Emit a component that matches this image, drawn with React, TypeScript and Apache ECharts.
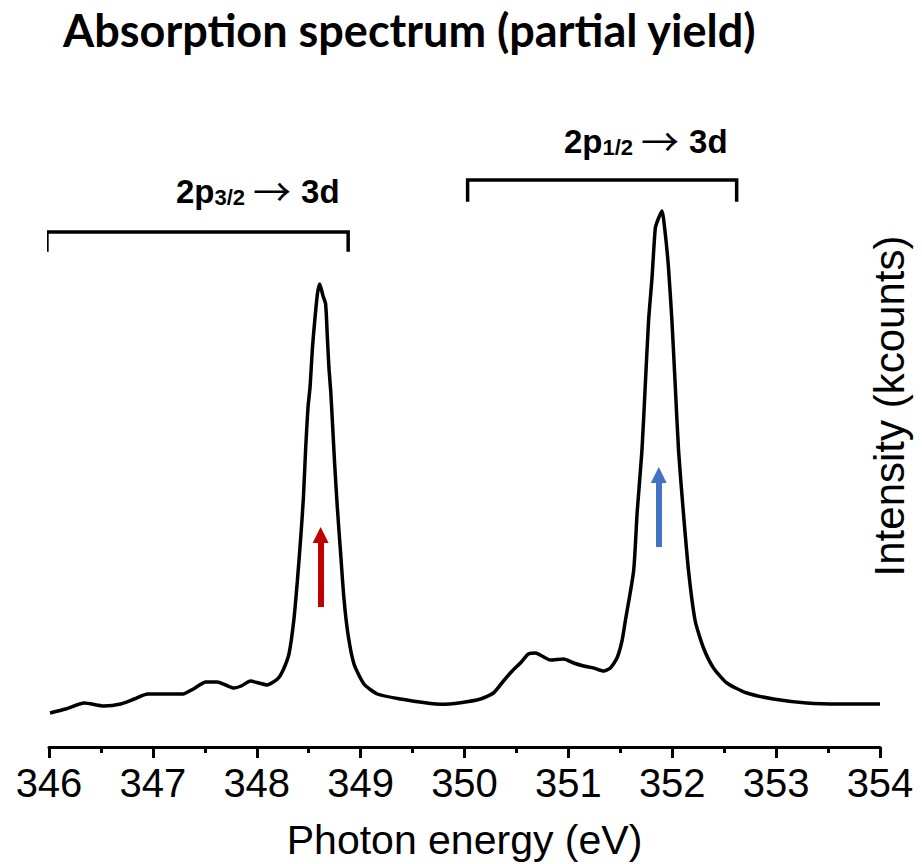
import React, { useEffect, useRef } from "react";
import * as echarts from "echarts";

// Photon energy (eV) and intensity (arbitrary kcounts units)
const energy = [
  346.01, 346.16, 346.34, 346.53, 346.69, 346.82, 346.95, 347.11, 347.29, 347.39,
  347.51, 347.62, 347.70, 347.78, 347.85, 347.94, 348.02, 348.10, 348.20, 348.25,
  348.31, 348.356, 348.391, 348.423, 348.449, 348.471, 348.493, 348.514, 348.536, 348.558,
  348.584, 348.606, 348.638, 348.663, 348.68, 348.695, 348.712, 348.728, 348.75, 348.776,
  348.808, 348.839, 348.878, 348.936, 349.032, 349.161, 349.385, 349.673, 349.77, 349.962,
  350.154, 350.279, 350.375, 350.459, 350.538, 350.615, 350.683, 350.747, 350.827, 350.955,
  351.051, 351.147, 351.243, 351.339, 351.404, 351.468, 351.516, 351.548, 351.628, 351.663,
  351.708, 351.74, 351.772, 351.805, 351.837, 351.865, 351.901, 351.933, 351.964, 351.997,
  352.029, 352.061, 352.106, 352.157, 352.221, 352.301, 352.397, 352.526, 352.718, 352.974,
  353.295, 353.615, 354.0,
];
const intensity = [
  3.4, 3.8, 4.4, 4.1, 4.3, 4.8, 5.3, 5.3, 5.3, 5.8,
  6.5, 6.5, 6.2, 5.9, 6.1, 6.6, 6.4, 6.2, 6.8, 7.6,
  9.3, 12.6, 16.6, 20.9, 24.9, 29.9, 33.9, 36.1, 39.9, 42.6,
  45.3, 46.3, 45.1, 44.3, 40.9, 37.9, 35.6, 32.6, 28.3, 23.9,
  19.3, 14.9, 11.3, 8.3, 6.3, 5.3, 4.8, 4.35, 4.27, 4.43,
  4.8, 5.4, 6.6, 7.6, 8.4, 9.3, 9.4, 9.1, 8.7, 8.8,
  8.4, 8.1, 7.9, 7.6, 7.9, 8.9, 10.6, 12.6, 17.6, 23.6,
  29.6, 36.1, 42.6, 46.9, 51.9, 52.8, 53.6, 51.3, 47.9, 42.6,
  36.1, 29.6, 23.6, 17.6, 12.6, 9.9, 7.9, 6.4, 5.4, 4.8,
  4.4, 4.3, 4.3,
];

const xTicks = [346, 347, 348, 349, 350, 351, 352, 353, 354];

// Brackets over the two edges
const bracket32X = [345.98, 345.98, 348.88, 348.88];
const bracket32Y = [49.7, 51.5, 51.5, 49.7];
const bracket12X = [350.03, 350.03, 352.62, 352.62];
const bracket12Y = [54.7, 56.7, 56.7, 54.7];

// Excitation arrows: [energy, start, end]
const redArrow = [348.615, 14, 21.2];
const blueArrow = [351.87, 20, 27.2];

const zip = (a: number[], b: number[]) => a.map((v, i) => [v, b[i]]);

export default function App() {
  const ref = useRef<HTMLDivElement>(null);
  useEffect(() => {
    if (!ref.current) return;
    const chart = echarts.init(ref.current, null, { renderer: "svg" });
    const font = "'Liberation Sans', Arial, sans-serif";
    const arrowLine = (a: number[], color: string) => ({
      silent: true,
      symbol: ["none", "triangle"],
      symbolSize: [16, 16],
      label: { show: false },
      lineStyle: { color, width: 6, type: "solid" },
      emphasis: { disabled: true },
      data: [[{ coord: [a[0], a[1]] }, { coord: [a[0], a[2]] }]],
    });
    const bracketSeries = (xs: number[], ys: number[]) => ({
      type: "line",
      data: zip(xs, ys),
      clip: false,
      symbol: "none",
      silent: true,
      lineStyle: { color: "#000", width: 3.5, cap: "square", join: "miter" },
    });
    const rich = {
      m: { fontFamily: font, fontWeight: "bold", fontSize: 33, color: "#000", lineHeight: 40, verticalAlign: "bottom" },
      s: { fontFamily: font, fontWeight: "bold", fontSize: 22, color: "#000", lineHeight: 14, verticalAlign: "bottom" },
      a: { fontFamily: "'Noto Sans CJK SC', 'DejaVu Sans', sans-serif", fontSize: 38, color: "#000", lineHeight: 46, verticalAlign: "bottom", padding: [0, 10, 0, 8] },
    };
    chart.setOption({
      animation: false,
      backgroundColor: "#fff",
      title: {
        text: "Absorption spectrum (partial yield)",
        left: 58,
        top: 2,
        textStyle: { fontFamily: "Lato, 'Open Sans', sans-serif", fontWeight: "bold", fontSize: 45, color: "#000" },
      },
      grid: { left: 49, right: 42, top: 147, bottom: 117, containLabel: false, outerBoundsMode: "none" },
      xAxis: {
        type: "value",
        min: xTicks[0],
        max: xTicks[xTicks.length - 1],
        interval: 1,
        name: "Photon energy (eV)",
        nameLocation: "middle",
        nameGap: 72,
        nameTextStyle: { fontFamily: font, fontSize: 41, color: "#000" },
        axisLine: { lineStyle: { color: "#000", width: 3 } },
        axisTick: { length: 11, lineStyle: { color: "#000", width: 3 } },
        minorTick: { show: true, splitNumber: 2, length: 6, lineStyle: { color: "#000", width: 3 } },
        axisLabel: { fontFamily: font, fontSize: 40, color: "#000", margin: 16 },
        splitLine: { show: false },
      },
      yAxis: {
        type: "value",
        position: "right",
        min: 0,
        max: 60,
        axisLine: { show: false },
        axisTick: { show: false },
        axisLabel: { show: false },
        splitLine: { show: false },
      },
      series: [
        {
          type: "line",
          data: zip(energy, intensity),
          symbol: "none",
          smooth: 0.2,
          lineStyle: { color: "#000", width: 3.5 },
          markLine: arrowLine(redArrow, "#C00000"),
        },
        {
          type: "line",
          data: [],
          markLine: arrowLine(blueArrow, "#4472C4"),
        },
        bracketSeries(bracket32X, bracket32Y),
        bracketSeries(bracket12X, bracket12Y),
      ],
      graphic: [
        {
          type: "text",
          x: 889,
          y: 406,
          rotation: Math.PI / 2,
          style: {
            text: "Intensity (kcounts)",
            fontFamily: font,
            fontSize: 42,
            fill: "#000",
            align: "center",
            verticalAlign: "middle",
          },
        },
        {
          type: "text",
          left: 176,
          top: 170,
          style: { text: "{m|2p}{s|3/2}{a|→}{m|3d}", rich },
        },
        {
          type: "text",
          left: 564,
          top: 120,
          style: { text: "{m|2p}{s|1/2}{a|→}{m|3d}", rich },
        },
      ],
    });
    return () => chart.dispose();
  }, []);
  return (
    <div
      ref={ref}
      style={{ position: "fixed", left: 0, top: 0, width: 922, height: 864, background: "#fff" }}
    />
  );
}
